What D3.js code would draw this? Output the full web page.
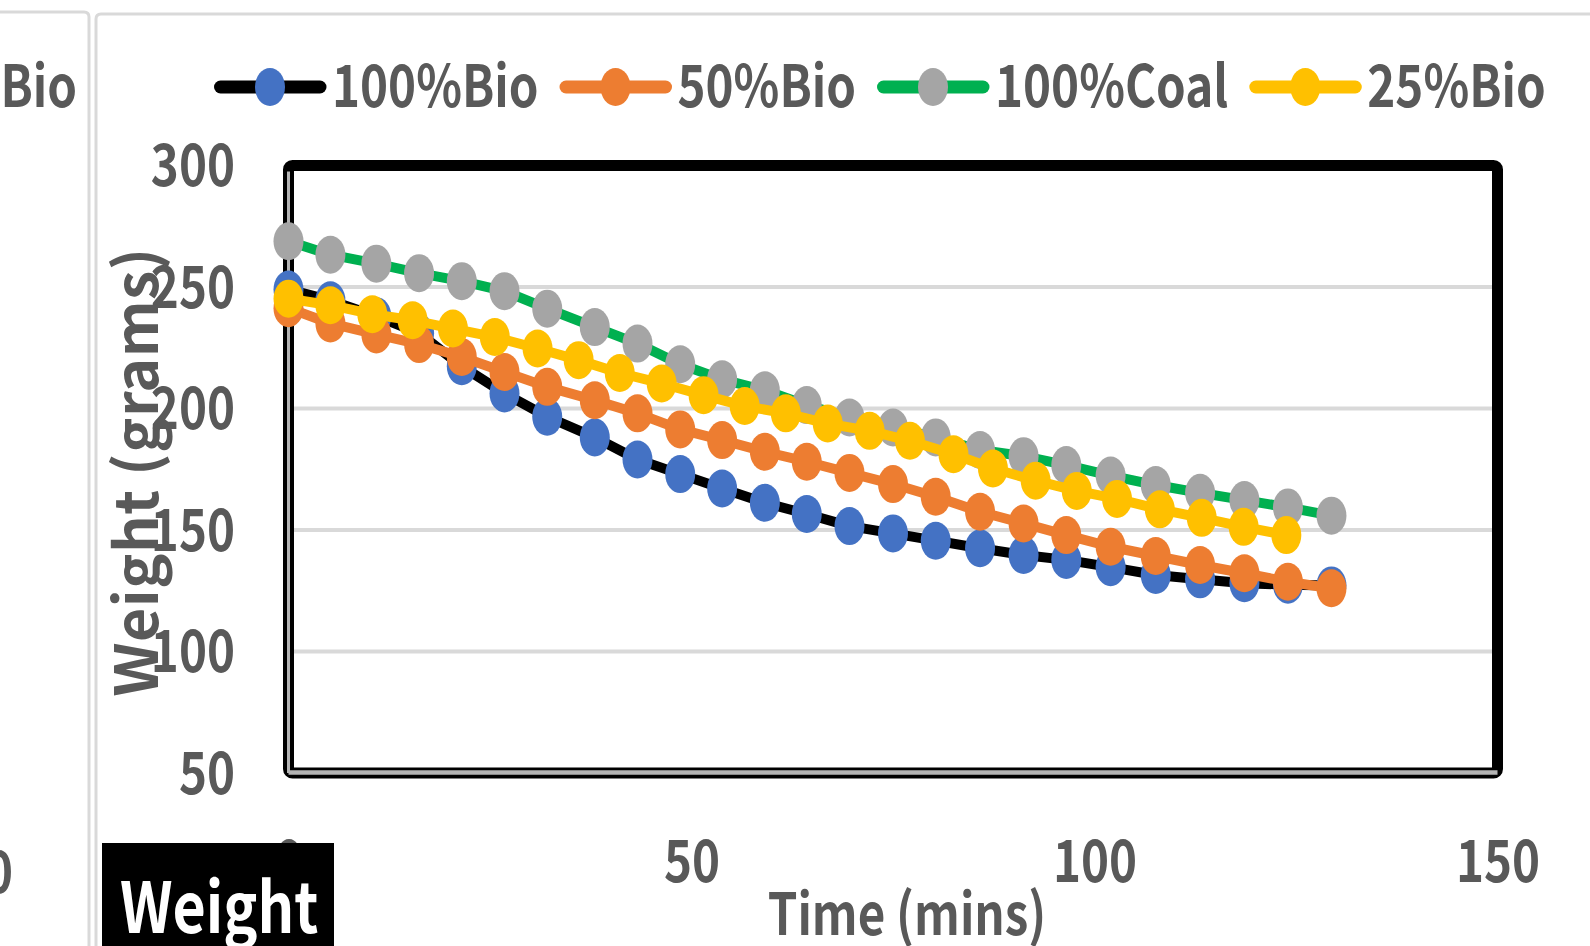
<!DOCTYPE html>
<html>
<head>
<meta charset="utf-8">
<script src="https://cdn.jsdelivr.net/npm/d3@7"></script>
<style>
  body { margin: 0; background: #fff; }
  svg text { font-family: "Noto Sans CJK SC", "Noto Sans", sans-serif; font-weight: 700; }
</style>
</head>
<body>
<div id="chart"></div>
<script>
// DATA
const seriesNames = ["100%Bio", "50%Bio", "100%Coal", "25%Bio"];

// time stamps (mins) shared by 100%Bio, 50%Bio and 100%Coal
const timeMins = [0, 5.2, 10.9, 16.2, 21.5, 26.8, 32.1, 38.0, 43.3, 48.6, 53.8, 59.1, 64.3,
                  69.6, 75.0, 80.3, 85.8, 91.2, 96.5, 102.0, 107.6, 113.1, 118.6, 124.0, 129.4];
// time stamps (mins) of the 25%Bio run
const timeMins25 = [0, 5.2, 10.4, 15.4, 20.4, 25.6, 30.9, 36.0, 41.1, 46.3, 51.5, 56.6, 61.7,
                    66.9, 72.1, 77.1, 82.5, 87.4, 92.7, 97.8, 102.8, 108.1, 113.3, 118.5, 123.8];

const bio100  = [249, 244.5, 238, 231, 217.4, 206.2, 196.6, 188.1, 179, 173, 167.1, 161.2, 156.6,
                 151.6, 148.6, 145.6, 142.5, 139.7, 137.7, 134.7, 131.5, 129.7, 128.1, 127.5, 127.2];
const bio50   = [241.3, 235, 230.5, 226.5, 221.2, 215, 208.9, 203.4, 198, 191.4, 187, 182.2, 178.1,
                 173.5, 168.9, 163.7, 157.5, 152.7, 147.9, 143.1, 139.3, 135.6, 132.2, 128.7, 126];
const coal100 = [268.8, 263.3, 259.6, 255.7, 252.4, 248.3, 241.1, 233.5, 226.7, 218.2, 212, 207.5, 201.4,
                 196.3, 192.2, 188.1, 182.9, 180.4, 176.7, 172.4, 168.5, 165.3, 162.3, 159.3, 155.9];
const bio25   = [245.2, 242.5, 238.8, 236.3, 232.9, 229.4, 224.7, 219.9, 214.6, 210.3, 205.5, 201, 198,
                 193.8, 190.8, 186.7, 181.2, 175.3, 170.3, 166.1, 162.8, 158.5, 155, 151.3, 147.9];

const xTicks = [0, 50, 100, 150];
const yTicks = [50, 100, 150, 200, 250, 300];

// SETUP
const W = 1590, H = 946;
const squeeze = 0.82;          // text in the source is horizontally condensed
const textGray = "#595959";
const gridGray = "#d9d9d9";

const svg = d3.select("#chart")
  .append("svg")
    .attr("width", W)
    .attr("height", H);

svg.append("rect").attr("width", W).attr("height", H).attr("fill", "#fff");

const x = d3.scaleLinear().domain([0, 150]).range([288.5, 1497.5]);
const y = d3.scaleLinear().domain([50, 300]).range([773, 165.5]);

const series = [
  { name: seriesNames[0], t: timeMins,   v: bio100,  stroke: "#000000", fill: "#4472C4" },
  { name: seriesNames[1], t: timeMins,   v: bio50,   stroke: "#ED7D31", fill: "#ED7D31" },
  { name: seriesNames[2], t: timeMins,   v: coal100, stroke: "#00B050", fill: "#A5A5A5" },
  { name: seriesNames[3], t: timeMins25, v: bio25,   stroke: "#FFC000", fill: "#FFC000" }
];

// helper: condensed text
function label(parent, str, px, py, size, anchor, color) {
  return parent.append("text")
    .attr("transform", `translate(${px},${py}) scale(${squeeze},1)`)
    .attr("text-anchor", anchor)
    .attr("font-size", size)
    .attr("fill", color || textGray)
    .text(str);
}

// 1: CHART BORDERS (this chart plus the edge of the neighbouring one)
svg.append("path")
  .attr("d", "M0,12 H84 Q89,12 89,17 V946")
  .attr("fill", "none").attr("stroke", gridGray).attr("stroke-width", 3);
svg.append("path")
  .attr("d", "M96,946 V19 Q96,14 101,14 H1590")
  .attr("fill", "none").attr("stroke", gridGray).attr("stroke-width", 3);

label(svg, "Bio", 77, 107, 58, "end");
label(svg, "0", 13, 893, 58, "end");

// 2: GRIDLINES
svg.append("g")
  .selectAll("line")
  .data(yTicks.filter(d => d > 50 && d < 300))
  .join("line")
    .attr("x1", x(0) + 4).attr("x2", x(150) - 5)
    .attr("y1", d => y(d)).attr("y2", d => y(d))
    .attr("stroke", gridGray)
    .attr("stroke-width", 4);

// 3: PLOT AREA FRAME + AXIS LINES
svg.append("rect")
  .attr("x", x.range()[0]).attr("y", y.range()[1])
  .attr("width", x.range()[1] - x.range()[0])
  .attr("height", y.range()[0] - y.range()[1])
  .attr("rx", 4)
  .attr("fill", "none")
  .attr("stroke", "#000")
  .attr("stroke-width", 11);

svg.append("line")
  .attr("x1", x(0)).attr("x2", x(0))
  .attr("y1", y(300) + 6).attr("y2", y(50))
  .attr("stroke", "#b4b4b4").attr("stroke-width", 3);
svg.append("line")
  .attr("x1", x(0)).attr("x2", x(150))
  .attr("y1", y(50) - 0.5).attr("y2", y(50) - 0.5)
  .attr("stroke", "#b4b4b4").attr("stroke-width", 4.5);

// 4: AXES (labels only)
const yAxis = svg.append("g")
  .attr("transform", `translate(${x(0)},0)`)
  .call(d3.axisLeft(y).tickValues(yTicks).tickSize(0).tickPadding(0));
yAxis.select(".domain").remove();
yAxis.selectAll("text")
  .attr("x", null).attr("dy", null).attr("y", null)
  .attr("transform", `translate(${235 - x(0)},20) scale(${squeeze},1)`)
  .attr("font-size", 58)
  .attr("fill", textGray);

const xAxis = svg.append("g")
  .attr("transform", `translate(0,${y(50)})`)
  .call(d3.axisBottom(x).tickValues(xTicks).tickSize(0).tickPadding(0));
xAxis.select(".domain").remove();
xAxis.selectAll("text")
  .attr("y", null).attr("dy", null)
  .attr("transform", `translate(0,${882 - y(50)}) scale(${squeeze},1)`)
  .attr("font-size", 58)
  .attr("fill", textGray);

// 5: SERIES
const line = d3.line()
  .x(d => x(d.t))
  .y(d => y(d.v));

series.forEach(s => {
  const pts = s.t.map((t, i) => ({ t, v: s.v[i] }));
  const g = svg.append("g");
  g.append("path")
    .datum(pts)
    .attr("d", line)
    .attr("fill", "none")
    .attr("stroke", s.stroke)
    .attr("stroke-width", 10)
    .attr("stroke-linejoin", "round");
  g.selectAll("ellipse")
    .data(pts)
    .join("ellipse")
      .attr("cx", d => x(d.t))
      .attr("cy", d => y(d.v))
      .attr("rx", 15)
      .attr("ry", 19)
      .attr("fill", s.fill);
});

// 6: LEGEND
let lx = 214;
const ly = 87;
series.forEach(s => {
  const g = svg.append("g");
  g.append("line")
    .attr("x1", lx + 6.5).attr("x2", lx + 106)
    .attr("y1", ly).attr("y2", ly)
    .attr("stroke", s.stroke)
    .attr("stroke-width", 13)
    .attr("stroke-linecap", "round");
  g.append("ellipse")
    .attr("cx", lx + 56).attr("cy", ly)
    .attr("rx", 15).attr("ry", 19)
    .attr("fill", s.fill);
  const t = label(g, s.name, lx + 118, 107, 58, "start");
  lx += 118 + t.node().getComputedTextLength() * squeeze + 21;
});

// 7: AXIS TITLES
label(svg, "Time (mins)", 907, 935, 58, "middle");

svg.append("text")
  .attr("transform", "translate(158,472) rotate(-90)")
  .attr("text-anchor", "middle")
  .attr("font-size", 59)
  .attr("fill", textGray)
  .attr("letter-spacing", 0.5)
  .style("white-space", "pre")
  .text("Weight (grams)");

// 8: "Weight" tag at the bottom
svg.append("rect")
  .attr("x", 102).attr("y", 843)
  .attr("width", 232).attr("height", H - 843)
  .attr("fill", "#000");
label(svg, "Weight", 120, 933, 70, "start", "#fff");
</script>
</body>
</html>
